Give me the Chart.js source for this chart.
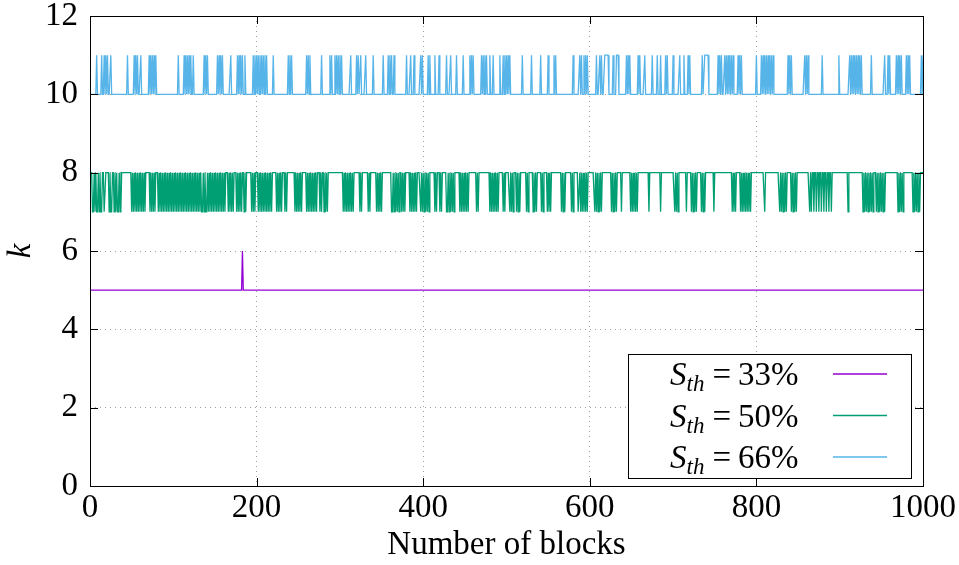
<!DOCTYPE html>
<html>
<head>
<meta charset="utf-8">
<script src="https://cdn.jsdelivr.net/npm/chart.js@4.4.1/dist/chart.umd.min.js"></script>
<style>
  html, body { margin: 0; padding: 0; background: #fff; }
</style>
</head>
<body>
<canvas id="kChart" width="959" height="565"></canvas>
<script>
const xTicks = [0, 200, 400, 600, 800, 1000];
const yTicks = [0, 2, 4, 6, 8, 10, 12];
const thresholds = ["33%", "50%", "66%"];
const colors = ["#9400d3", "#009e73", "#56b4e9"];
const baseK = [5, 8, 10];
const altK = [6, 7, 11];

// blocks where S_th=33% goes up to k=6
const alt33 = [183];
// blocks where S_th=50% drops to k=7
const alt50 = [
  3, 4, 6, 8, 9, 11, 13, 14, 17, 18, 23, 25, 26, 29, 31, 33, 34, 36, 37,
  50, 52, 54, 56, 58, 60, 62, 64, 66, 72, 74, 76, 78, 82, 84, 86, 88, 90, 92,
  94, 96, 98, 100, 102, 104, 106, 108, 110, 112, 114, 116, 118, 120, 122,
  124, 126, 128, 130, 132, 134, 135, 137, 139, 140, 142, 144, 146, 148,
  150, 152, 154, 156, 158, 160, 162, 166, 168, 170, 172, 176, 178, 180, 182,
  185, 187, 194, 196, 198, 202, 204, 206, 208, 210, 212, 214, 216, 218,
  224, 226, 228, 230, 234, 236, 246, 248, 250, 252, 254, 260, 262, 264,
  266, 268, 270, 272, 276, 278, 281, 283, 285, 304, 306, 308, 310, 312, 314,
  316, 324, 326, 334, 336, 344, 346, 348, 350, 362, 363, 365, 367, 369, 371,
  374, 376, 378, 384, 386, 388, 390, 392, 397, 399, 401, 403, 405, 407,
  414, 416, 420, 422, 428, 429, 431, 433, 435, 437, 444, 446, 448, 450, 452,
  454, 464, 466, 480, 482, 484, 486, 488, 490, 496, 498, 504, 506, 508,
  512, 514, 516, 524, 526, 532, 534, 536, 542, 544, 549, 551, 553, 566, 568,
  570, 578, 580, 586, 587, 589, 591, 593, 595, 597, 606, 608, 610, 612, 614,
  626, 628, 630, 632, 638, 649, 651, 653, 655, 657, 671, 685, 702, 704, 706,
  716, 722, 724, 726, 728, 734, 736, 738, 749, 771, 773, 775, 781, 783, 785,
  787, 789, 791, 793, 810, 828, 830, 832, 834, 836, 842, 844, 846, 848,
  864, 866, 869, 872, 875, 878, 881, 884, 887, 890, 910, 928, 930, 932, 934,
  936, 938, 940, 944, 946, 948, 950, 952, 954, 970, 972, 974, 976, 988, 990,
  992, 994, 996
];
// blocks where S_th=66% goes up to k=11
const alt66 = [
  8, 14, 17, 19, 21, 25, 45, 53, 55, 57, 61, 71, 73, 75, 77, 79, 106,
  113, 115, 117, 119, 121, 124, 137, 139, 141, 153, 155, 157, 159, 169,
  177, 179, 181, 183, 186, 196, 198, 200, 202, 204, 206, 208, 210, 212,
  220, 238, 240, 242, 260, 262, 264, 278, 288, 290, 294, 296, 298, 300, 302,
  313, 320, 322, 325, 331, 340, 352, 358, 360, 362, 365, 380, 385, 389,
  397, 399, 406, 408, 414, 419, 428, 433, 440, 448, 456, 458, 460, 470, 472,
  474, 476, 480, 484, 492, 496, 498, 500, 502, 504, 519, 530, 541, 550,
  557, 559, 580, 588, 590, 593, 595, 597, 608, 612, 614, 618, 619, 620, 621,
  622, 628, 632, 633, 634, 644, 646, 648, 658, 660, 666, 675, 681, 685,
  691, 693, 700, 708, 713, 718, 720, 735, 738, 739, 740, 741, 742, 754,
  756, 758, 762, 764, 766, 768, 770, 772, 778, 780, 782, 800, 806, 808, 810,
  812, 814, 816, 818, 820, 838, 840, 842, 858, 860, 862, 879, 899, 912, 914,
  916, 918, 920, 922, 924, 926, 938, 954, 958, 960, 968, 970, 972, 974,
  980, 982, 984, 998, 1000
];
const altLists = [alt33, alt50, alt66];

const serif = "'Liberation Serif', 'DejaVu Serif', serif";

function buildSeries(i) {
  const alt = new Set(altLists[i]);
  const pts = [];
  for (let b = 0; b <= 1000; b++) {
    pts.push({ x: b, y: alt.has(b) ? altK[i] : baseK[i] });
  }
  return pts;
}

const datasets = thresholds.map((t, i) => ({
  label: "S_th = " + t,
  data: buildSeries(i),
  borderColor: colors[i],
  borderWidth: 1.3,
  pointRadius: 0,
  tension: 0,
  fill: false,
}));

// frame, inward ticks and the gnuplot-like legend
const framePlugin = {
  id: "frame",
  afterDraw(chart) {
    const { ctx, chartArea: a, scales } = chart;
    ctx.save();
    ctx.strokeStyle = "#000";
    ctx.lineWidth = 1;
    ctx.beginPath();
    xTicks.forEach((v) => {
      const px = Math.round(scales.x.getPixelForValue(v)) + 0.5;
      ctx.moveTo(px, a.bottom); ctx.lineTo(px, a.bottom - 8);
      ctx.moveTo(px, a.top); ctx.lineTo(px, a.top + 8);
    });
    yTicks.forEach((v) => {
      const py = Math.round(scales.y.getPixelForValue(v)) + 0.5;
      ctx.moveTo(a.left, py); ctx.lineTo(a.left + 8, py);
      ctx.moveTo(a.right, py); ctx.lineTo(a.right - 8, py);
    });
    ctx.stroke();
    ctx.strokeRect(Math.round(a.left) + 0.5, Math.round(a.top) + 0.5,
      Math.round(a.right - a.left), Math.round(a.bottom - a.top));

    // legend box
    const bx = 628, by = 354, bw = 283, bh = 124;
    ctx.fillStyle = "#fff";
    ctx.fillRect(bx, by, bw, bh);
    ctx.strokeRect(bx + 0.5, by + 0.5, bw, bh);
    ctx.textBaseline = "alphabetic";
    thresholds.forEach((t, i) => {
      const cy = 374 + i * 41.5;
      const base = cy + 11;
      let x = 670;
      ctx.fillStyle = "#000";
      ctx.font = "italic 33px " + serif;
      ctx.fillText("S", x, base);
      x += ctx.measureText("S").width;
      ctx.font = "italic 23px " + serif;
      ctx.fillText("th", x, base + 6);
      x += ctx.measureText("th").width + 8;
      ctx.font = "33px " + serif;
      ctx.fillText("=", x, base);
      x += ctx.measureText("=").width + 7;
      ctx.fillText(t, x, base);
      ctx.strokeStyle = colors[i];
      ctx.lineWidth = 1.5;
      ctx.beginPath();
      ctx.moveTo(833, cy);
      ctx.lineTo(887, cy);
      ctx.stroke();
    });
    ctx.restore();
  },
};

new Chart(document.getElementById("kChart"), {
  type: "line",
  data: { datasets: datasets },
  plugins: [framePlugin],
  options: {
    responsive: false,
    animation: false,
    devicePixelRatio: 1,
    layout: { padding: { left: 0, right: 36, top: 16, bottom: 0 } },
    plugins: { legend: { display: false }, tooltip: { enabled: false } },
    scales: {
      x: {
        type: "linear",
        min: 0,
        max: 1000,
        afterBuildTicks: (s) => { s.ticks = xTicks.map((v) => ({ value: v })); },
        afterFit: (s) => { s.height = 79; s.paddingLeft = 0; s.paddingRight = 0; },
        grid: { color: "#a0a0a0", drawTicks: false },
        border: { display: false, dash: [1, 4] },
        ticks: {
          color: "#000", padding: 3, maxRotation: 0,
          font: { family: serif, size: 33 },
          callback: (v) => String(v),
        },
        title: {
          display: true,
          text: "Number of blocks",
          color: "#000",
          font: { family: serif, size: 33 },
          padding: { top: 0, bottom: 0 },
        },
      },
      y: {
        min: 0,
        max: 12,
        afterBuildTicks: (s) => { s.ticks = yTicks.map((v) => ({ value: v })); },
        afterFit: (s) => { s.width = 90; s.paddingTop = 0; s.paddingBottom = 0; },
        grid: { color: "#a0a0a0", drawTicks: false },
        border: { display: false, dash: [1, 4] },
        ticks: {
          color: "#000", padding: 12,
          font: { family: serif, size: 33 },
          callback: (v) => String(v),
        },
        title: {
          display: true,
          text: "k",
          color: "#000",
          font: { family: serif, size: 33, style: "italic" },
          padding: { top: 2, bottom: 0 },
        },
      },
    },
  },
});
</script>
</body>
</html>
